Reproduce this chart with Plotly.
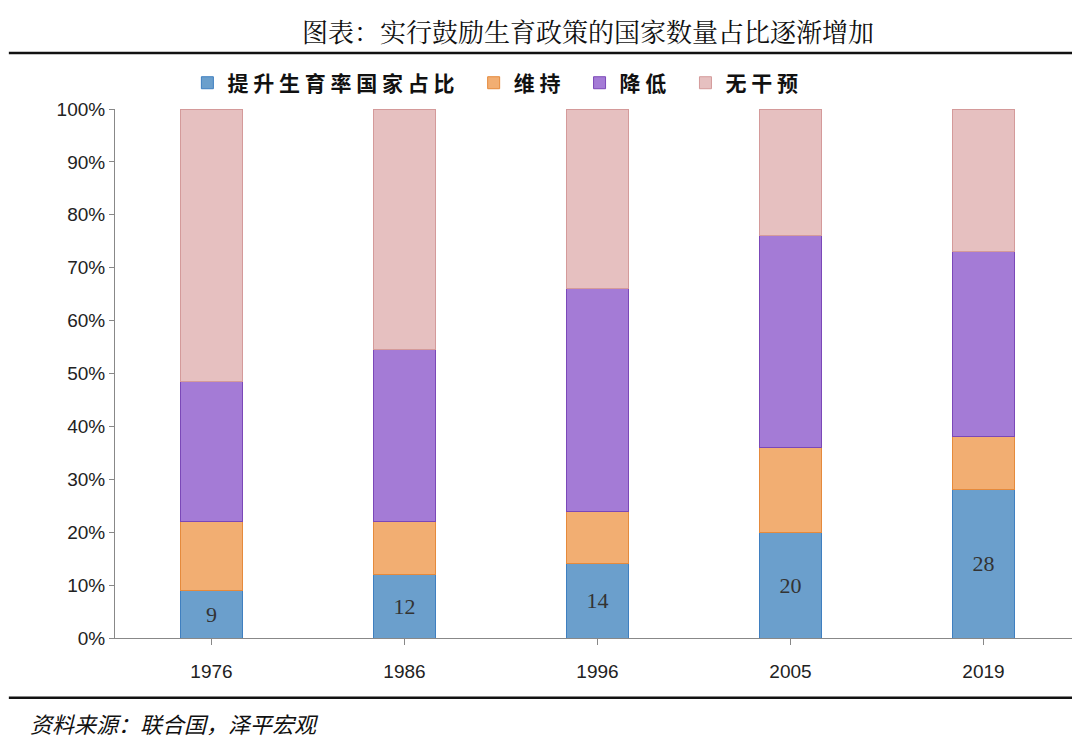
import plotly.graph_objects as go

years = ['1976', '1986', '1996', '2005', '2019']
raise_share = [9, 12, 14, 20, 28]
maintain = [13, 10, 10, 16, 10]
lower = [26.5, 32.5, 42, 40, 35]
no_policy = [51.5, 45.5, 34, 24, 27]

series = [
    ('提 升 生 育 率 国 家 占 比', raise_share, '#6b9fcc', '#3f7fc0'),
    ('维 持', maintain, '#f2ae72', '#e58a3c'),
    ('降 低', lower, '#a47bd6', '#7b48b8'),
    ('无 干 预', no_policy, '#e6c0c0', '#d49a9a'),
]

fig = go.Figure()
for i, (name, vals, fill, edge) in enumerate(series):
    fig.add_trace(go.Bar(
        x=years, y=vals, name='<b>' + name + '</b>   ',
        marker=dict(color=fill, line=dict(color=edge, width=1)),
        text=[str(v) for v in vals] if i == 0 else None,
        textposition='inside', insidetextanchor='middle',
        textfont=dict(family='Liberation Serif', size=22, color='#333333'),
    ))

fig.update_layout(
    barmode='stack', bargap=0.68,
    width=1080, height=737,
    paper_bgcolor='white', plot_bgcolor='white',
    margin=dict(l=107, r=8, t=101, b=107, autoexpand=False),
    font=dict(family='Noto Sans CJK SC', color='#222222'),
    legend=dict(orientation='h', x=0.075, xanchor='left', y=1.049, yanchor='middle',
                font=dict(size=21, family='Noto Sans CJK SC', color='#111111'), traceorder='normal'),
    yaxis=dict(range=[0, 100], dtick=10, ticksuffix='%', showgrid=False,
               showline=True, linecolor='#888888', ticks='outside', ticklen=5,
               tickcolor='#888888', tickfont=dict(size=19, family='Liberation Sans')),
    xaxis=dict(showline=True, linecolor='#888888', ticks='outside', ticklen=6,
               tickcolor='#888888', tickfont=dict(size=19, family='Liberation Sans'),
               ticklabelstandoff=10),
    uniformtext=dict(minsize=10, mode='show'),
)

fig.add_annotation(text='图表：实行鼓励生育政策的国家数量占比逐渐增加', xref='paper', yref='paper',
                   x=0.49, y=1.148, showarrow=False,
                   font=dict(size=26, family='Noto Serif CJK SC, Noto Sans CJK SC', color='#111111'),
                   xanchor='center', yanchor='middle')
fig.add_shape(type='line', xref='paper', yref='paper', x0=-0.11, x1=1.01, y0=1.106, y1=1.106,
              line=dict(color='#111111', width=2.5))
fig.add_shape(type='line', xref='paper', yref='paper', x0=-0.11, x1=1.01, y0=-0.113, y1=-0.113,
              line=dict(color='#111111', width=2.5))
fig.add_annotation(text='<i>资料来源：联合国，泽平宏观</i>', xref='paper', yref='paper',
                   x=-0.09, y=-0.16, showarrow=False, xanchor='left', yanchor='middle',
                   font=dict(size=22, family='Noto Sans CJK SC', color='#111111'))

fig.write_html('out.html')
